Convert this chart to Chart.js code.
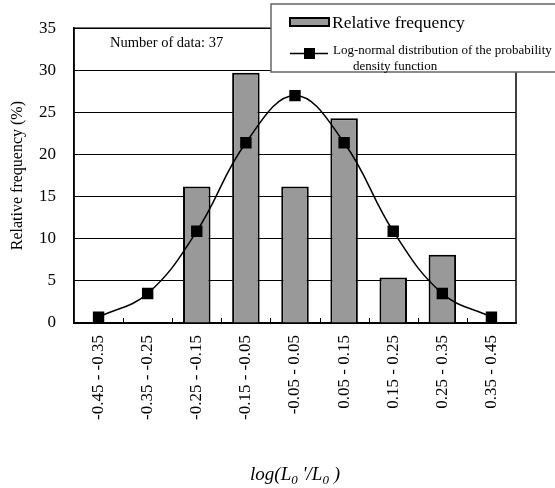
<!DOCTYPE html>
<html>
<head>
<meta charset="utf-8">
<script src="https://cdn.jsdelivr.net/npm/chart.js@4/dist/chart.umd.min.js"></script>
<style>
  html, body { margin: 0; padding: 0; background: #fff; }
  #wrap { width: 555px; height: 488px; }
</style>
</head>
<body>
<div id="wrap"><canvas id="histChart" width="555" height="488"></canvas></div>
<script>
const categories = ['-0.45 - -0.35', '-0.35 - -0.25', '-0.25 - -0.15', '-0.15 - -0.05',
  '-0.05 - 0.05', '0.05 - 0.15', '0.15 - 0.25', '0.25 - 0.35', '0.35 - 0.45'];
const relFrequency = [null, null, 16.2, 29.7, 16.2, 24.3, 5.4, 8.1, null];
const logNormal = [0.7, 3.5, 10.9, 21.4, 27.0, 21.4, 10.9, 3.5, 0.7];
const yMin = 0;
const yMax = 35;
const yStep = 5;
const dataCount = 37;

const serif = '"Liberation Serif", "Times New Roman", serif';

const whiteBg = {
  id: 'whiteBg',
  beforeDraw(chart) {
    const c = chart.ctx;
    c.save();
    c.fillStyle = '#fff';
    c.fillRect(0, 0, chart.width, chart.height);
    c.restore();
  },
};

// plot frame, inner ticks on the x axis, note text, x title, legend
const extras = {
  id: 'extras',
  beforeDatasetsDraw(chart) {
    const { ctx: c, chartArea: a, scales } = chart;
    c.save();
    c.strokeStyle = '#000';
    c.lineWidth = 1.5;
    c.strokeRect(a.left, a.top, a.right - a.left, a.bottom - a.top);
    // small ticks between categories, pointing up
    c.lineWidth = 1;
    const x = scales.x;
    for (let i = 1; i < categories.length; i++) {
      const px = Math.round((x.getPixelForValue(i - 1) + x.getPixelForValue(i)) / 2) + 0.5;
      c.beginPath();
      c.moveTo(px, a.bottom);
      c.lineTo(px, a.bottom - 5);
      c.stroke();
    }
    c.restore();
  },
  afterDraw(chart) {
    const { ctx: c, chartArea: a } = chart;
    const ds = chart.data.datasets;
    const barDs = ds.find((d) => d.type !== 'line');
    const lineDs = ds.find((d) => d.type === 'line');
    c.save();
    c.fillStyle = '#000';
    c.textBaseline = 'alphabetic';
    c.textAlign = 'left';
    c.font = `14.5px ${serif}`;
    c.fillText(`Number of data: ${dataCount}`, 110, 47);

    // x axis title: log(L0'/L0)
    const cx = (a.left + a.right) / 2;
    const big = `italic 19px ${serif}`;
    const small = `italic 13px ${serif}`;
    const parts = [
      ['log(L', big, 0], ['0', small, 4], [" '/L", big, 0], ['0', small, 4], [' )', big, 0],
    ];
    let w = 0;
    parts.forEach(([t, f]) => { c.font = f; w += c.measureText(t).width; });
    let px = cx - w / 2;
    parts.forEach(([t, f, dy]) => {
      c.font = f;
      c.fillText(t, px, 480 + dy);
      px += c.measureText(t).width;
    });

    // legend box
    c.fillStyle = '#fff';
    c.fillRect(271, 4, 300, 68);
    c.strokeStyle = '#666';
    c.lineWidth = 1.5;
    c.strokeRect(271, 4, 300, 68);

    c.fillStyle = barDs.backgroundColor;
    c.fillRect(290, 18, 39, 8);
    c.strokeStyle = '#000';
    c.lineWidth = 2;
    c.strokeRect(290, 18, 39, 8);
    c.fillStyle = '#000';
    c.font = `17.5px ${serif}`;
    c.fillText(barDs.label, 332, 28);

    c.lineWidth = 1.5;
    c.beginPath();
    c.moveTo(290, 53.5);
    c.lineTo(328, 53.5);
    c.stroke();
    c.fillRect(304, 48, 11, 11);
    c.font = `13px ${serif}`;
    const lines = lineDs.label.split('\n');
    c.fillText(lines[0], 333, 54);
    c.fillText(lines[1], 353, 70);
    c.restore();
  },
};

new Chart(document.getElementById('histChart'), {
  type: 'bar',
  data: {
    labels: categories,
    datasets: [
      {
        type: 'line',
        label: 'Log-normal distribution of the probability\ndensity function',
        data: logNormal,
        borderColor: '#000',
        backgroundColor: '#000',
        borderWidth: 1.5,
        tension: 0.4,
        pointStyle: 'rect',
        pointRadius: 7,
        pointHoverRadius: 7,
        fill: false,
        order: 0,
      },
      {
        type: 'bar',
        label: 'Relative frequency',
        data: relFrequency,
        backgroundColor: '#999999',
        borderColor: '#000',
        borderWidth: 2,
        borderSkipped: 'bottom',
        categoryPercentage: 1,
        barPercentage: 0.56,
        order: 1,
      },
    ],
  },
  options: {
    responsive: false,
    animation: false,
    events: [],
    layout: { padding: { top: 27, right: 39, left: 0, bottom: 0 } },
    plugins: {
      legend: { display: false },
      tooltip: { enabled: false },
    },
    scales: {
      x: {
        grid: { display: false, drawTicks: false },
        border: { display: true, color: '#000', width: 1.5 },
        ticks: {
          color: '#000',
          font: { family: serif, size: 17 },
          minRotation: 90,
          maxRotation: 90,
          autoSkip: false,
          padding: 12,
        },
        afterFit(scale) { scale.height = 165; },
      },
      y: {
        min: yMin,
        max: yMax,
        grid: { color: '#000', lineWidth: 1, drawTicks: false },
        border: { display: true, color: '#000', width: 1.5 },
        ticks: {
          stepSize: yStep,
          color: '#000',
          font: { family: serif, size: 17 },
          padding: 18,
        },
        title: {
          display: true,
          text: 'Relative frequency (%)',
          color: '#000',
          font: { family: serif, size: 16 },
          padding: { top: 8, bottom: 0 },
        },
        afterFit(scale) { scale.width = 74; },
      },
    },
  },
  plugins: [whiteBg, extras],
});
</script>
</body>
</html>
